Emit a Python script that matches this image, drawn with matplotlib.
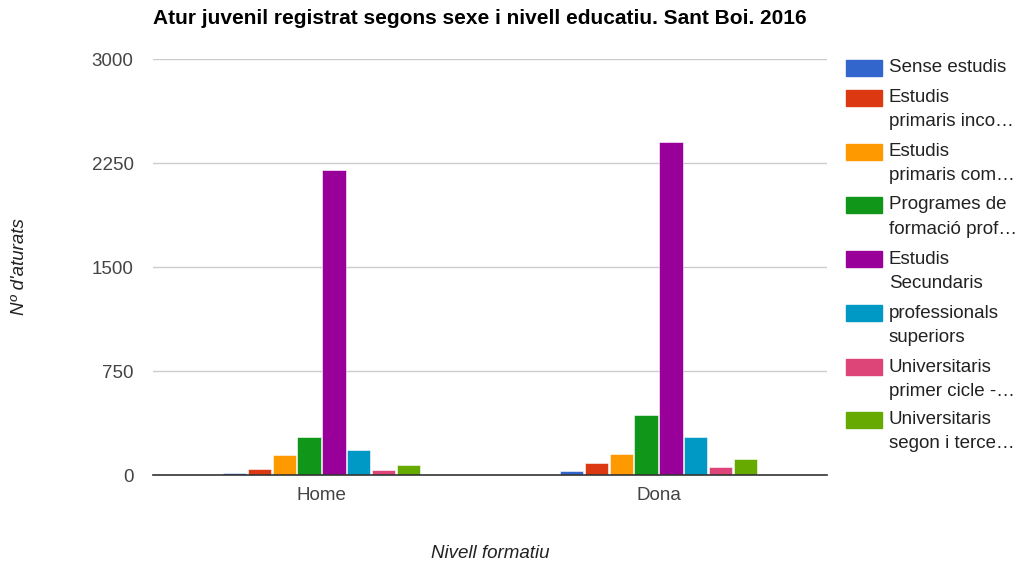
import matplotlib
matplotlib.use("Agg")
import matplotlib.pyplot as plt
from matplotlib.patches import Rectangle
import numpy as np

plt.rcParams['font.family'] = ['Liberation Sans', 'DejaVu Sans']

categories = ["Home", "Dona"]
series_names = ["Sense estudis", "Estudis\nprimaris inco…", "Estudis\nprimaris com…",
                "Programes de\nformació prof…", "Estudis\nSecundaris",
                "professionals\nsuperiors", "Universitaris\nprimer cicle -…",
                "Universitaris\nsegon i terce…"]
values = {
    "Sense estudis": [15, 29],
    "Estudis primaris incomplets": [45, 87],
    "Estudis primaris complets": [142, 151],
    "Programes de formació professional": [274, 433],
    "Estudis Secundaris": [2200, 2401],
    "professionals superiors": [180, 272],
    "Universitaris primer cicle": [36, 56],
    "Universitaris segon i tercer cicle": [74, 113],
}
colors = ["#3366cc", "#dc3912", "#ff9900", "#109618", "#990099", "#0099c6", "#dd4477", "#66aa00"]
yticks = [0, 750, 1500, 2250, 3000]

fig = plt.figure(figsize=(10.19, 5.64), dpi=100)
ax = fig.add_axes([153/1019, 1-475/564, (827-153)/1019, (475-59)/564])

x = np.arange(len(categories))
n = len(values)
slot = 0.0735
bw = 0.069
for i, (key, vals) in enumerate(values.items()):
    offs = (i - (n-1)/2) * slot
    ax.bar(x + offs, vals, width=bw, color=colors[i], edgecolor='white', linewidth=0.4, zorder=3)

ax.set_xlim(-0.5, 1.5)
ax.set_ylim(0, 3000)
ax.set_yticks(yticks)
ax.set_yticklabels([str(t) for t in yticks])
ax.set_xticks(x)
ax.set_xticklabels(categories)
ax.grid(axis='y', color='#cccccc', linewidth=1, zorder=0)
for s in ['top', 'right', 'left']:
    ax.spines[s].set_visible(False)
ax.spines['bottom'].set_color('#333333')
ax.spines['bottom'].set_linewidth(1.2)
ax.spines['bottom'].set_zorder(4)
ax.tick_params(axis='both', length=0, labelsize=13.5, labelcolor='#444444')
ax.tick_params(axis='y', pad=14)
ax.tick_params(axis='x', pad=9)

fig.text(153/1019, 1-18/564, "Atur juvenil registrat segons sexe i nivell educatiu. Sant Boi. 2016",
         fontsize=15, fontweight='bold', color='#000000', va='center', ha='left')
fig.text(490/1019, 1-553/564, "Nivell formatiu", fontsize=13.5, style='italic', color='#222222',
         ha='center', va='center')
fig.text(20/1019, 1-267/564, "Nº d'aturats", fontsize=13.5, style='italic', color='#222222',
         ha='center', va='center', rotation=90)

# legend
ys = [68, 98, 152, 205, 259, 313, 367, 420]
for i, (name, yy) in enumerate(zip(series_names, ys)):
    fig.patches.append(Rectangle((846/1019, 1-(yy+8)/564), 36/1019, 16/564,
                                 transform=fig.transFigure, color=colors[i], figure=fig))
    for k, ln in enumerate(name.split("\n")):
        fig.text(889/1019, 1-(yy + 24*k)/564, ln, fontsize=13.5, color='#222222',
                 va='center', ha='left')

fig.savefig("out.png", dpi=100)
